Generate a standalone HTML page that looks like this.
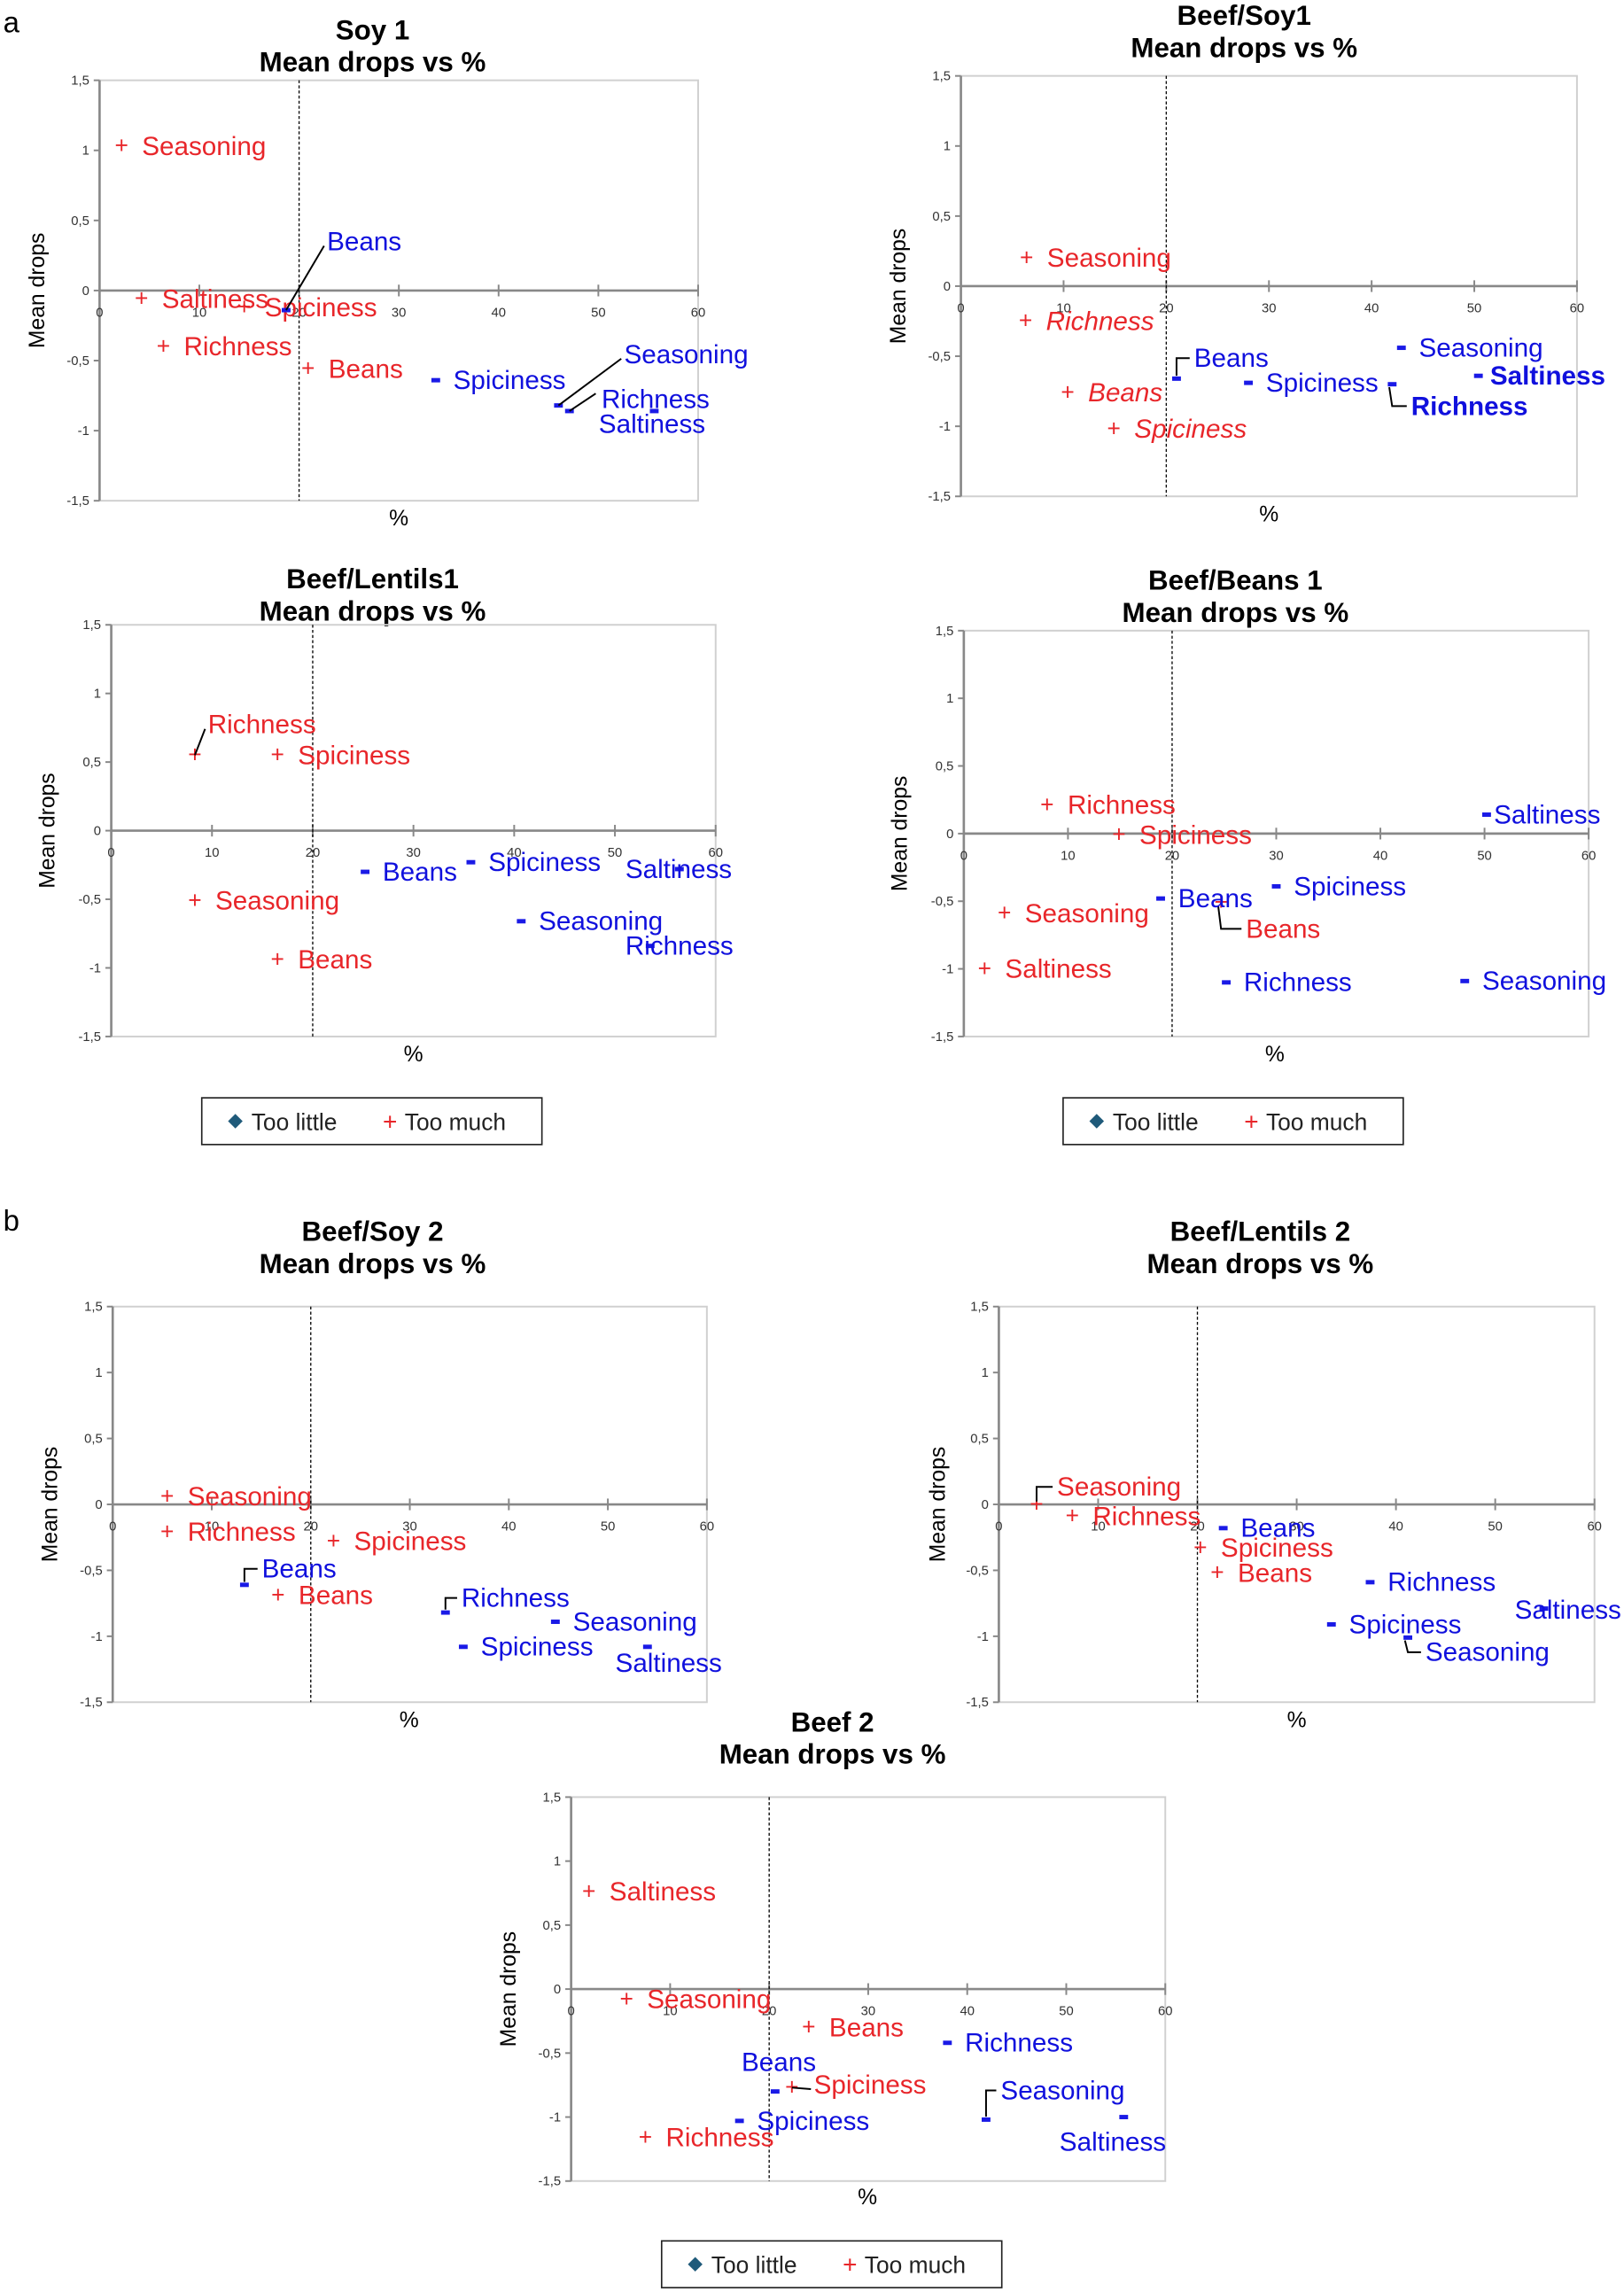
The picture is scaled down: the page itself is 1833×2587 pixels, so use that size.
<!DOCTYPE html>
<html><head><meta charset="utf-8">
<style>
html,body{margin:0;padding:0;background:#fff;}
svg{display:block;font-family:"Liberation Sans Narrow","Liberation Sans",sans-serif;}
</style></head>
<body>
<svg id="root" width="1833" height="2587" viewBox="0 0 1112 1570" xmlns="http://www.w3.org/2000/svg">
<text x="2" y="22" font-size="20" font-family="Liberation Sans, sans-serif">a</text>
<text x="2" y="843" font-size="20" font-family="Liberation Sans, sans-serif">b</text>
</svg>
<script>
// ---- data ----
const names = ["Seasoning","Saltiness","Spiciness","Richness","Beans"];
const xTicks = [0,10,20,30,40,50,60];
const yTicks = [1.5,1,0.5,0,-0.5,-1,-1.5];
const yTickLabels = ["1,5","1","0,5","0","-0,5","-1","-1,5"];

// Soy 1
const soy1MuchX = [2.2,4.2,14.5,6.4,20.9];
const soy1MuchY = [1.03,-0.06,-0.12,-0.4,-0.56];
const soy1LittleX = [46,55.6,33.7,47.1,18.7];
const soy1LittleY = [-0.82,-0.86,-0.64,-0.86,-0.14];
// Beef/Soy1
const bs1MuchX = [6.4,null,14.9,6.3,10.4];
const bs1MuchY = [0.2,null,-1.02,-0.25,-0.76];
const bs1LittleX = [42.9,50.4,28,42,21];
const bs1LittleY = [-0.44,-0.64,-0.69,-0.7,-0.66];
// Beef/Lentils1
const bl1MuchX = [8.3,null,16.5,8.3,16.5];
const bl1MuchY = [-0.51,null,0.55,0.55,-0.94];
const bl1LittleX = [40.7,56.4,35.7,53.5,25.2];
const bl1LittleY = [-0.66,-0.28,-0.23,-0.84,-0.3];
// Beef/Beans 1
const bb1MuchX = [3.9,2,14.9,8,24.7];
const bb1MuchY = [-0.59,-1.0,-0.01,0.21,-0.51];
const bb1LittleX = [48.1,50.2,30,25.2,18.9];
const bb1LittleY = [-1.09,0.14,-0.39,-1.1,-0.48];
// Beef/Soy 2
const bs2MuchX = [5.5,null,22.3,5.5,16.7];
const bs2MuchY = [0.06,null,-0.28,-0.21,-0.69];
const bs2LittleX = [44.7,54,35.4,33.6,13.3];
const bs2LittleY = [-0.89,-1.08,-1.08,-0.82,-0.61];
// Beef/Lentils 2
const bl2MuchX = [3.8,null,20.3,7.4,22];
const bl2MuchY = [0,null,-0.33,-0.09,-0.52];
const bl2LittleX = [41.2,54.9,33.5,37.4,22.6];
const bl2LittleY = [-1.01,-0.79,-0.91,-0.59,-0.18];
// Beef 2
const b2MuchX = [5.6,1.8,22.3,7.5,24];
const b2MuchY = [-0.08,0.76,-0.77,-1.16,-0.3];
const b2LittleX = [41.9,55.8,17,38,20.6];
const b2LittleY = [-1.02,-1.0,-1.03,-0.42,-0.8];

// ---- layout (display units) ----
const charts = [
 {id:"soy-1",t1:"Soy 1",L:68,R:478,T:55,B:343,tx:255,ty:20,ax:273,ay:360,yl:30,
  mx:soy1MuchX,my:soy1MuchY,lx:soy1LittleX,ly:soy1LittleY,
  mOff:{},lOff:{4:[28,-47,"line"],0:[45,-35,"line"],3:[22,-8,"line2"],1:[-40,9]}},
 {id:"beef-soy1",t1:"Beef/Soy1",L:658,R:1080,T:52,B:340,tx:852,ty:10,ax:869,ay:357,yl:620,
  mx:bs1MuchX,my:bs1MuchY,lx:bs1LittleX,ly:bs1LittleY,italic:[2,3,4],
  mOff:{},lOff:{4:[12,-14,"br"],3:[13,15,"brd"],1:[6,0]},bold:[1,3]},
 {id:"beef-lentils1",t1:"Beef/Lentils1",L:76,R:490,T:428,B:710,tx:255,ty:396,ax:283,ay:727,yl:37,
  mx:bl1MuchX,my:bl1MuchY,lx:bl1LittleX,ly:bl1LittleY,
  mOff:{3:[9,-21,"line"]},lOff:{1:[-39,0],3:[-19,0]}},
 {id:"beef-beans-1",t1:"Beef/Beans 1",L:660,R:1088,T:432,B:710,tx:846,ty:397,ax:873,ay:727,yl:621,
  mx:bb1MuchX,my:bb1MuchY,lx:bb1LittleX,ly:bb1LittleY,
  mOff:{4:[17,18,"brd"]},lOff:{1:[3,0]}},
 {id:"beef-soy-2",t1:"Beef/Soy 2",L:77,R:484,T:895,B:1166,tx:255,ty:843,ax:280,ay:1183,yl:39,
  mx:bs2MuchX,my:bs2MuchY,lx:bs2LittleX,ly:bs2LittleY,
  mOff:{},lOff:{4:[12,-11,"br"],3:[11,-10,"br"],1:[-24,11]}},
 {id:"beef-lentils-2",t1:"Beef/Lentils 2",L:684,R:1092,T:895,B:1166,tx:863,ty:843,ax:888,ay:1183,yl:647,
  mx:bl2MuchX,my:bl2MuchY,lx:bl2LittleX,ly:bl2LittleY,
  mOff:{0:[14,-12,"br"]},lOff:{0:[12,10,"brd"],1:[-22,1]}},
 {id:"beef-2",t1:"Beef 2",L:391,R:798,T:1231,B:1494,tx:570,ty:1179,ax:594,ay:1510,yl:353,
  mx:b2MuchX,my:b2MuchY,lx:b2LittleX,ly:b2LittleY,
  mOff:{2:[15,-2,"line"]},lOff:{4:[-25,-20],0:[10,-20,"br"],1:[-46,17]}}
];
const legends=[[138,752],[728,752],[453,1535]];
const NS="http://www.w3.org/2000/svg";
const root=document.getElementById("root");
function mk(tag,attrs,parent,text){const e=document.createElementNS(NS,tag);for(const k in attrs)e.setAttribute(k,attrs[k]);if(text!==undefined)e.textContent=text;(parent||root).appendChild(e);return e;}

function leader(g,type,px,py,tx,ty){
  if(type==="line") mk("line",{x1:px,y1:py,x2:tx-2,y2:ty+3,stroke:"#000","stroke-width":1.2},g);
  else if(type==="line2") mk("line",{x1:px,y1:py,x2:tx-4,y2:ty-4,stroke:"#000","stroke-width":1.2},g);
  else if(type==="br") mk("polyline",{points:`${px},${py-2} ${px},${ty} ${tx-3},${ty}`,fill:"none",stroke:"#000","stroke-width":1.2},g);
  else if(type==="brd") mk("polyline",{points:`${px-2},${py+2} ${px},${ty} ${tx-3},${ty}`,fill:"none",stroke:"#000","stroke-width":1.2},g);
}

charts.forEach(c=>{
  const g=mk("g",{});
  
  
  const xs=v=>c.L+(v-0)/60*(c.R-c.L);
  const ys=v=>c.T+(1.5-v)/3*(c.B-c.T);
  const t1=mk("text",{x:c.tx,y:c.ty+7,"text-anchor":"middle","font-size":19,"font-weight":"bold"},g,c.t1);
  
  
  const t2=mk("text",{x:c.tx,y:c.ty+29,"text-anchor":"middle","font-size":19,"font-weight":"bold"},g,"Mean drops vs %");
  
  
  mk("rect",{x:c.L,y:c.T,width:c.R-c.L,height:c.B-c.T,fill:"none",stroke:"#d0d0d0","stroke-width":1.2},g);
  mk("line",{x1:c.L,y1:c.T,x2:c.L,y2:c.B,stroke:"#888","stroke-width":1.6},g);
  const y0=ys(0);
  mk("line",{x1:c.L,y1:y0,x2:c.R,y2:y0,stroke:"#888","stroke-width":1.6},g);
  yTicks.forEach((v,i)=>{
    mk("line",{x1:c.L-4,y1:ys(v),x2:c.L,y2:ys(v),stroke:"#888","stroke-width":1.2},g);
    const t=mk("text",{x:c.L-7,y:ys(v)+3,"text-anchor":"end","font-size":9,fill:"#333"},g,yTickLabels[i]);
    
    
  });
  xTicks.forEach(v=>{
    mk("line",{x1:xs(v),y1:y0-4,x2:xs(v),y2:y0+4,stroke:"#888","stroke-width":1.2},g);
    const t=mk("text",{x:xs(v),y:y0+18,"text-anchor":"middle","font-size":9,fill:"#333"},g,String(v));
    
    
  });
  mk("line",{x1:xs(20),y1:c.T,x2:xs(20),y2:c.B,stroke:"#000","stroke-width":0.8,"stroke-dasharray":"2,1.5"},g);
  const xl=mk("text",{x:c.ax,y:c.ay,"text-anchor":"middle","font-size":15},g,"%");
  
  
  const yc=(c.T+c.B)/2;
  const yl=mk("text",{x:c.yl,y:yc,"text-anchor":"middle","font-size":15,transform:`rotate(-90 ${c.yl} ${yc})`},g,"Mean drops");
  
  
  names.forEach((n,i)=>{
    if(c.mx[i]==null)return;
    const px=xs(c.mx[i]),py=ys(c.my[i]);
    const p=mk("text",{x:px,y:py+5,"text-anchor":"middle","font-size":16,fill:"#e8262a"},g,"+");
    
    
    const o=c.mOff[i]||[10,0];
    const tx=px+o[0],ty=py+o[1];
    if(o[2])leader(g,o[2],px,py,tx,ty);
    const it=c.italic&&c.italic.includes(i);
    const lb=mk("text",{x:tx+(o[2]?0:4),y:ty+6,"font-size":18,fill:"#e8262a","font-style":it?"italic":"normal"},g,n);
    
    
  });
  names.forEach((n,i)=>{
    if(c.lx[i]==null)return;
    const px=xs(c.lx[i]),py=ys(c.ly[i]);
    const p=mk("rect",{x:px-3,y:py-1.5,width:6,height:3,fill:"#1a1ae6"},g);
    
    
    const o=c.lOff[i]||[10,0];
    const tx=px+o[0],ty=py+o[1];
    if(o[2])leader(g,o[2],px,py,tx,ty);
    const bold=c.bold&&c.bold.includes(i);
    const lb=mk("text",{x:tx+(o[2]?0:2),y:ty+6,"font-size":18,fill:"#1010dd","font-weight":bold?"bold":"normal"},g,n);
    
    
  });
});

legends.forEach(([x,y])=>{
  const g=mk("g",{});
  
  
  mk("rect",{x:x,y:y,width:233,height:32,fill:"#fff",stroke:"#222","stroke-width":1},g);
  mk("path",{d:`M${x+23},${y+11} l5,5 l-5,5 l-5,-5z`,fill:"#1f5a7a"},g);
  const a=mk("text",{x:x+34,y:y+22,"font-size":16,fill:"#222","font-family":"Liberation Sans, sans-serif"},g,"Too little");
  
  
  mk("text",{x:x+124,y:y+22,"font-size":17,fill:"#e8262a","font-family":"Liberation Sans, sans-serif"},g,"+");
  const b=mk("text",{x:x+139,y:y+22,"font-size":16,fill:"#222","font-family":"Liberation Sans, sans-serif"},g,"Too much");
  
  
});
</script>
</body></html>
